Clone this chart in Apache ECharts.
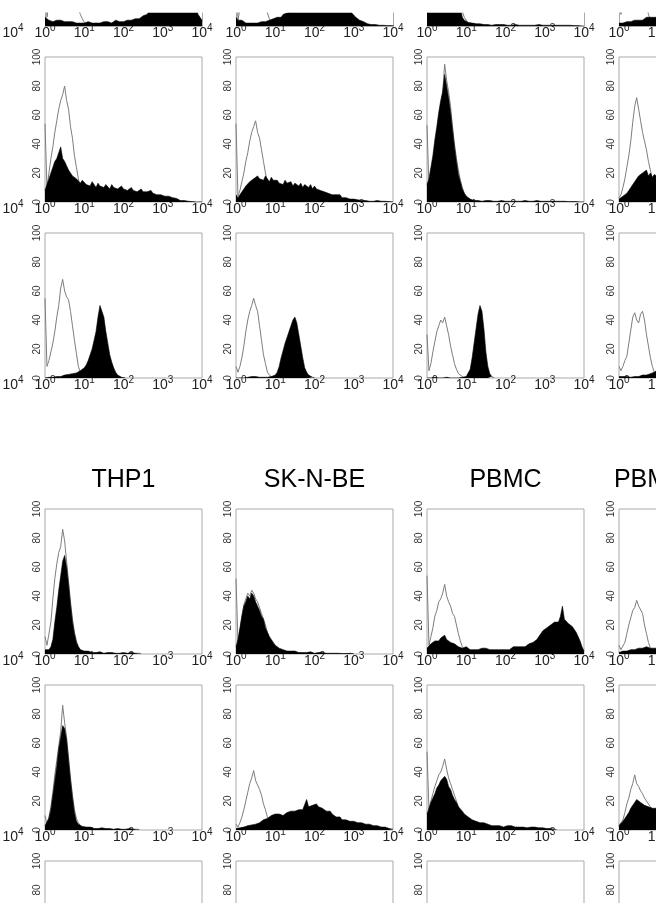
<!DOCTYPE html>
<html><head><meta charset="utf-8">
<script src="https://cdn.jsdelivr.net/npm/echarts@6/dist/echarts.min.js"></script>
<style>html,body{margin:0;padding:0;background:#fff;overflow:hidden;width:656px;height:903px}#c{position:absolute;left:-200px;top:0;width:1056px;height:1100px}</style>
</head><body><div id="c"></div>
<script>
// ---- Data (percent of max, bins every 0.05 decade starting at 10^0) ----
const titles = ['THP1', 'SK-N-BE', 'PBMC', 'PBMC'];
const yTickValues = [0, 20, 40, 60, 80, 100];

const r1c1Stain = [6,5,4,5,3,4,4,3,4,3,3,4,3,2,3,3,2,3,2,3,2, 2,3,2,2,3,2,3,2,3,3,2,3,3,2,3,4,3,3,4,3, 4,4,5,4,5,5,6,5,6,7,7,8,9,12, 16,22,28,34,38,42,45,44,46,48,47,45,46,44,45,43,42,40,38,36, 30,20,12,8,6,4];
const r1c1Iso = [45,6,15,28,40,50,58,62,60,65,58,52,45,38,30,22,16,12,8,5,2.5,1,0.5,0];
const r1c2Stain = [6,4,3,4,3,2,3,2,3,2,3,2,3,3,2,3,4,4,5,5,6, 6,7,6,8,7,9,8,10,11,10,12,11,13,12,14,13,15,14,16,15, 17,15,18,16,17,15,18,16,17,15,16,14,15,13,14,12,13,11,9,8,6, 5,4,4,3,2,1.5,1,1,0.5,1,0.5,0.5,0.5,0.5,0.3,0.3,0.3,0.3,0,0];
const r1c2Iso = [50,4,12,22,32,40,46,50,47,50,44,38,32,26,20,14,9,5,3,1,0];
const r1c3Stain = [18,28,38,50,62,72,80,86,84,78,70,58,46,36,26,19,15,12,6,4,3, 2.5,2,2,1.5,1.5,1,1.5,1,1,1.5,1,1,0.5,1,1,0.5,1,0.5,1,1, 0.5,1,0.5,0.5,1,0.5,0.5,1,0.5,0.5,0.5,1,0.5,0.5,0.5,0.5,1,0.5,0.5,0.5, 0.5,0.5,0.5,1,0.5,0.5,0.5,0.5,0.5,0.5,0.5,0.5,0.5,0.3,0.3,0.3,0.3,0,0,0];
const r1c3Iso = [50,14,22,30,42,50,60,72,80,90,84,76,66,52,40,30,22,15,10,6,4,2,1,0.5];
const r1c4Stain = [2,1,2,2,3,2,3,3,4,3,4,5,4,5,6,5,6,7,6,7,6,7];
const r1c4Iso = [45,8,18,30,45,55,60,65,62,68,55,45,32,22,14,8,4,2,1,0.5,0.5,0];

const r2c1Stain = [8,12,16,20,24,28,30,34,38,30,28,25,22,20,18,17,16,15,13,15,14, 12,13,11,14,12,10,13,11,12,10,12,11,9,12,10,11,9,10,11,9, 10,8,9,10,8,9,7,8,9,7,8,7,6,8,6,7,5,6,5,5, 4,5,4,3,3,2,2.5,2,1,1.5,1,0.5,0.5,0.3,0.3,0,0,0,0,0];
const r2c1Iso = [54,10,20,30,38,48,56,64,70,74,80,70,64,52,44,32,24,16,10,6,3,2,1,0];
const r2c2Stain = [5,3,5,7,9,11,12,14,13,16,15,18,16,17,15,18,16,14,17,15,14, 15,13,14,12,15,13,12,14,11,13,12,11,13,10,12,11,10,12,9,11, 9,10,8,9,7,8,6,7,5,6,5,4,5,3,4,3,3,2,3,2, 2,1.5,2,1,1.5,1,1,0.5,1,0.5,0.5,1,0.5,0.5,0.3,0.5,0.3,0.3,0,0];
const r2c2Iso = [54,4,8,14,20,28,34,42,48,52,56,48,44,36,28,20,14,8,5,3,1,0];
const r2c3Stain = [12,16,24,32,43,52,62,70,76,88,80,72,62,50,38,28,19,14,9,6,4, 3,2,1.5,1,1.5,1,1,0.5,1,1,0.5,1,0.5,0.5,1,0.5,0.5,1,0.5,0.5, 1,0.5,0.5,0.5,1,0.5,0.5,0.5,0.5,1,0.5,0.5,0.5,0.5,0.5,1,0.5,0.5,0.5,0.5, 0.5,0.5,1,0.5,0.5,0.5,0.5,0.5,0.5,0.5,0.5,0.3,0.3,0.3,0.3,0.3,0,0,0,0];
const r2c3Iso = [53,10,18,26,38,46,56,66,76,95,84,76,66,52,40,30,22,15,10,6,4,2,1,0.5];
const r2c4Stain = [2,3,4,5,6,8,10,12,14,16,18,17,20,19,22,18,20,17,19,18,17,18];
const r2c4Iso = [3,5,10,16,24,32,42,55,66,72,64,56,48,42,36,28,22,16,12,8,5,3];

const r3c1Stain = [0,0.5,0.5,1,0.5,1,1,1.5,1,1.5,2,2,2.5,2,3,3, 3.5,4,5,6,7,9,12,16, 20,26,32,42,50,46,42,32,24,16,11,7,4,2,1,0.5,0.3,0];
const r3c1Iso = [55,8,12,18,24,32,42,50,62,68,60,56,54,46,36,26,17,8,4,2,1,0];
const r3c2Stain = [0,0,0,0.5,0,0.5,0.5,0.5,1,0.5,1,0.5,0.5,1,0.5,1,0.5,1,1, 1,2,4,8,14,19,24,28,32,36,40,42,38,30,22,14,7,4,2,1,0.5,0.3];
const r3c2Iso = [8,4,8,14,22,32,40,46,50,55,50,46,36,26,16,10,4,2,1,0];
const r3c3Stain = [0,0,0,0,0.5,0,0,0.5,0,0,0.5,0,0,0.5,0,0.5,0,0.5,0.5,1,1, 2,6,14,24,34,44,50,46,34,18,8,3,1,0.3];
const r3c3Iso = [30,5,10,18,25,32,36,40,38,42,36,30,22,16,10,6,3,2,1,0];
const r3c4Stain = [1,0.5,1,0.5,1,1,0.5,1,1,1.5,1,1.5,2,1.5,2,2.5,3,3.5,4,5,6,7];
const r3c4Iso = [8,5,8,12,15,24,33,42,45,40,38,44,46,40,30,22,14,8,4,2,1,0.5];

const r4c1Stain = [3,2,3,5,10,22,32,44,54,64,68,60,48,34,22,14,8,5,3,2.5,2, 1.5,2,1.5,1,1.5,1,1,1.5,1,0.5,1,1,0.5,1,0.5,0.5,1,0.5,0.5,1,0.5,0.5,0.5,1,0.5, 0.5,0,0.5,0];
const r4c1Iso = [12,6,14,22,38,52,62,70,74,86,78,64,50,36,24,15,9,5,3,2,1,0.5,0];
const r4c2Stain = [5,10,18,26,33,36,40,38,42,40,36,33,30,26,24,18,15,12,10,8,6,5,4,3.5,3,2.5,2,2.5,2, 1.5,2,1.5,1,1.5,1,1.5,1,1,1.5,1,0.5,1,1,0.5,1,0.5,0.5,1,0.5,0.5,0.5,1,0.5,0.5,0.3,0.5,0.3,0.3,0.5,0.3,0.3];
const r4c2Iso = [52,8,16,26,34,38,42,40,44,42,38,36,32,28,24,20,15,11,8,5,3,2,1,0.5];
const r4c3Stain = [4,5,7,8,9,10,9,11,10,13,10,9,8,9,7,6,5,5,4,4,5, 4,3,4,3,4,3,3,4,3,4,3,3,4,3,4,3,4,3,4,3, 4,3,4,5,4,5,4,5,6,5,6,7,6,8,9,10,12,14,16,17, 18,19,20,21,22,23,22,26,33,24,23,21,20,19,18,15,12,9,5,2];
const r4c3Iso = [54,6,12,18,26,30,36,38,42,48,40,36,33,28,26,20,14,9,5,3,2,1];
const r4c4Stain = [1,1,2,1,2,2,3,2,3,3,4,3,4,3,5,4,4,5,4,5,4,5];
const r4c4Iso = [6,3,2,8,14,20,25,30,32,37,33,32,28,20,14,8,4,2,1,0.5,0.5,0];

const r5c1Stain = [3,4,8,14,24,34,44,56,64,72,70,62,48,34,22,12,6,4,3,2.5,2, 2,1.5,2,1.5,1,1.5,1,1,1.5,1,1,0.5,1,1,0.5,0.5,1,0.5,0.5,1,0.5,0.5,1,0.5,0.5,0.5,0.5,0.3];
const r5c1Iso = [10,4,9,16,26,38,48,58,68,86,74,64,50,36,24,14,8,5,3,2,1];
const r5c2Stain = [1,1,1.5,2,2,2.5,3,3,3.5,4,4,5,5,6,7,8,8,9,10,9,11, 10,11,12,10,11,12,11,13,12,13,12,14,13,14,13,21,16,15,17,16, 18,16,17,15,14,13,12,13,11,10,9,8,9,7,8,7,6,6,5,6, 5,5,4,5,4,4,3,4,3,3,2,3,2,2,1.5,2,1.5,1,1,0.5];
const r5c2Iso = [4,2,5,9,14,20,26,32,36,41,34,31,28,24,18,14,9,5,3,2,1];
const r5c3Stain = [11,15,19,22,25,29,31,34,33,37,35,30,28,24,21,19,16,15,13,11,10, 9,8,7,7,6,6,5,5,5,4,4,4,3,4,3,3,3,3,2,3, 3,2,3,2,2,3,2,2,2,2,1.5,2,2,1.5,2,1.5,1.5,1,1.5,1, 1,0.5,1,0.5,0.5,0.3];
const r5c3Iso = [54,14,20,25,30,34,38,40,44,49,42,36,32,28,24,20,16,13,10,8,6,4,3,2,1];
const r5c4Stain = [3,4,6,8,10,12,15,17,19,21,20,19,18,17,18,16,17,15,16,15,16,15];
const r5c4Iso = [3,2,7,12,18,22,28,32,38,32,30,27,25,22,21,18,16,14,12,10,9,8];

// ---- Layout (chart canvas is shifted 200px left of the viewport) ----
const SHIFT = 200;
const COL_LEFT = [-144, 45, 236, 427, 619].map(v => v + SHIFT);
const ROW_TOP = [13, 57, 233, 509, 685, 861];
const PW = 157, PH = 145;
const TITLE_X = [123.5, 314.5, 505.5, 650].map(v => v + SHIFT);
const TITLE_Y = 468;
const BOX = '#a9a9a9';
const FONT = '"Liberation Sans", Arial, Helvetica, sans-serif';

const panelData = {
  '0-1': [r1c1Stain, r1c1Iso], '0-2': [r1c2Stain, r1c2Iso], '0-3': [r1c3Stain, r1c3Iso], '0-4': [r1c4Stain, r1c4Iso],
  '1-1': [r2c1Stain, r2c1Iso], '1-2': [r2c2Stain, r2c2Iso], '1-3': [r2c3Stain, r2c3Iso], '1-4': [r2c4Stain, r2c4Iso],
  '2-1': [r3c1Stain, r3c1Iso], '2-2': [r3c2Stain, r3c2Iso], '2-3': [r3c3Stain, r3c3Iso], '2-4': [r3c4Stain, r3c4Iso],
  '3-1': [r4c1Stain, r4c1Iso], '3-2': [r4c2Stain, r4c2Iso], '3-3': [r4c3Stain, r4c3Iso], '3-4': [r4c4Stain, r4c4Iso],
  '4-1': [r5c1Stain, r5c1Iso], '4-2': [r5c2Stain, r5c2Iso], '4-3': [r5c3Stain, r5c3Iso], '4-4': [r5c4Stain, r5c4Iso]
};

const toPts = arr => arr.map((v, i) => [Math.pow(10, i / 20), v]);

const grids = [], xAxes = [], yAxes = [], series = [];
const xLabel = {
  margin: -3,
  fontFamily: FONT,
  color: '#222',
  formatter: v => '{b|10}{s|' + Math.round(Math.log10(v)) + '}',
  rich: {
    b: { fontSize: 14, fontFamily: FONT, color: '#222', lineHeight: 17, verticalAlign: 'bottom' },
    s: { fontSize: 10, fontFamily: FONT, color: '#222', verticalAlign: 'top' }
  }
};

for (let r = 0; r < ROW_TOP.length; r++) {
  for (let c = 0; c < COL_LEFT.length; c++) {
    if (c === 0 && r === ROW_TOP.length - 1) continue;
    const clipped = (r === 0);
    const g = grids.length;
    grids.push({
      left: COL_LEFT[c], top: ROW_TOP[r], width: PW, height: clipped ? 13 : PH,
      show: !clipped && c !== 0, borderColor: BOX, borderWidth: 1, backgroundColor: 'transparent'
    });
    xAxes.push({
      gridIndex: g, type: 'log', logBase: 10, min: 1, max: 10000,
      axisLine: { show: clipped && c !== 0, lineStyle: { color: BOX, width: 1 } },
      axisTick: { show: false }, splitLine: { show: false },
      axisLabel: Object.assign({ showMinLabel: true, showMaxLabel: true }, xLabel)
    });
    const yi = yAxes.length;
    yAxes.push({
      gridIndex: g, type: 'value', min: 0, max: clipped ? 100 * 13 / PH : 100, interval: 20,
      show: c !== 0,
      axisLine: { show: clipped, lineStyle: { color: BOX, width: 1 } },
      axisTick: { show: false }, splitLine: { show: false },
      axisLabel: { rotate: 90, fontSize: 10, fontFamily: FONT, color: '#333', margin: 3, showMaxLabel: !clipped }
    });
    if (clipped && c !== 0) {
      yAxes.push({
        gridIndex: g, type: 'value', position: 'right', min: 0, max: 100 * 13 / PH,
        axisLine: { show: true, lineStyle: { color: BOX, width: 1 } },
        axisTick: { show: false }, splitLine: { show: false }, axisLabel: { show: false }
      });
    }
    const d = panelData[r + '-' + c];
    if (d) {
      series.push({
        type: 'line', xAxisIndex: g, yAxisIndex: yi, data: toPts(d[1]), symbol: 'none', z: 2,
        lineStyle: { color: '#7d7d7d', width: 1 }, silent: true, clip: true
      });
      series.push({
        type: 'line', xAxisIndex: g, yAxisIndex: yi, data: toPts(d[0]), symbol: 'none', z: 3,
        lineStyle: { color: '#000', width: 0.6 }, areaStyle: { color: '#000', opacity: 1 },
        silent: true, clip: true
      });
    }
  }
}

const chart = echarts.init(document.getElementById('c'), null, { renderer: 'canvas' });
chart.setOption({
  animation: false,
  backgroundColor: '#fff',
  grid: grids, xAxis: xAxes, yAxis: yAxes, series: series,
  graphic: titles.map((t, i) => ({
    type: 'text', x: TITLE_X[i], y: TITLE_Y,
    style: { text: t, font: '25px ' + FONT, fill: '#000', textAlign: 'center', textVerticalAlign: 'top' }
  }))
});
</script></body></html>
